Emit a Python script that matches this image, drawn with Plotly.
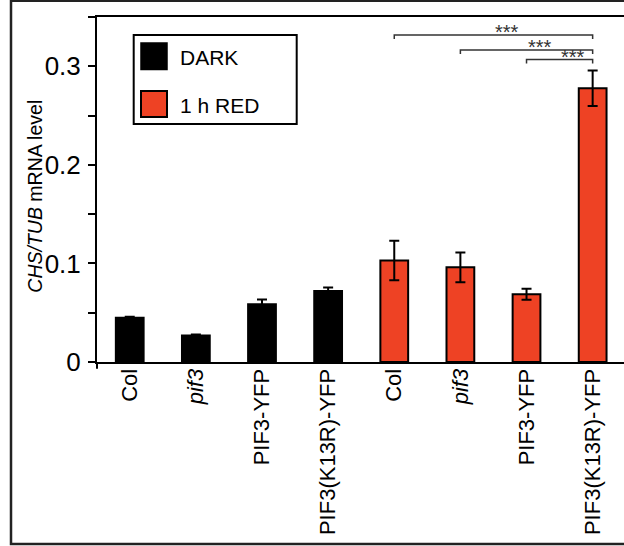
import plotly.graph_objects as go

categories = ["Col", "<i>pif3</i>", "PIF3-YFP", "PIF3(K13R)-YFP",
              "Col", "<i>pif3</i>", "PIF3-YFP", "PIF3(K13R)-YFP"]
dark_values = [0.045, 0.027, 0.0586, 0.072]
dark_errors = [0.001, 0.0008, 0.0047, 0.0035]
red_values = [0.103, 0.096, 0.0687, 0.2776]
red_errors = [0.020, 0.015, 0.0055, 0.018]
series_names = ["DARK", "1 h RED"]
y_tickvals = [0, 0.05, 0.1, 0.15, 0.2, 0.25, 0.3, 0.35]
y_ticktext = ["0", "", "0.1", "", "0.2", "", "0.3", ""]
# significance brackets: (start index, end index, y level, label)
brackets = [(4, 7, 0.3317, "***"), (5, 7, 0.3164, "***"), (6, 7, 0.3068, "***")]

FONT = "Arial, Liberation Sans, Helvetica, sans-serif"
RED = "#EE4224"
W, H = 624, 546
L, R, T, B = 97, 0, 17, 184.3
PW, PH = W - L - R, H - T - B


def px(x):
    return (x - L) / PW


def py(y):
    return (H - B - y) / PH


x_dark = list(range(4))
x_red = list(range(4, 8))

fig = go.Figure()
fig.add_trace(go.Bar(
    x=x_dark, y=dark_values, width=0.42, name=series_names[0],
    marker=dict(color="black", line=dict(color="black", width=2)),
    error_y=dict(type="data", array=dark_errors, color="black", thickness=2, width=5),
    showlegend=False))
fig.add_trace(go.Bar(
    x=x_red, y=red_values, width=0.42, name=series_names[1],
    marker=dict(color=RED, line=dict(color="black", width=2)),
    error_y=dict(type="data", array=red_errors, color="black", thickness=2, width=5),
    showlegend=False))

shapes = []
annotations = []

# significance brackets
tick_drop = 0.004
for x0, x1, yl, lab in brackets:
    shapes.append(dict(type="path", xref="x", yref="y",
                       path=f"M {x0},{yl - tick_drop} L {x0},{yl} L {x1},{yl} L {x1},{yl - tick_drop}",
                       line=dict(color="#333333", width=1.5)))
    annotations.append(dict(xref="x", yref="y", x=(x0 + x1) / 2 + 0.2, y=yl,
                            text=lab, showarrow=False, yanchor="bottom", yshift=-10,
                            font=dict(family=FONT, size=20, color="#333333")))

# legend (manual)
shapes.append(dict(type="rect", xref="paper", yref="paper",
                   x0=px(133.7), x1=px(296.7), y0=py(124), y1=py(35),
                   line=dict(color="black", width=2), fillcolor="white"))
shapes.append(dict(type="rect", xref="paper", yref="paper",
                   x0=px(141), x1=px(167), y0=py(69.5), y1=py(43),
                   line=dict(color="black", width=1.5), fillcolor="black"))
shapes.append(dict(type="rect", xref="paper", yref="paper",
                   x0=px(141), x1=px(167), y0=py(117), y1=py(91),
                   line=dict(color="black", width=2), fillcolor=RED))
annotations.append(dict(xref="paper", yref="paper", x=px(178), y=py(57),
                        xanchor="left", yanchor="middle", text=series_names[0],
                        showarrow=False, font=dict(family=FONT, size=21, color="black")))
annotations.append(dict(xref="paper", yref="paper", x=px(178), y=py(105),
                        xanchor="left", yanchor="middle", text=series_names[1],
                        showarrow=False, font=dict(family=FONT, size=21, color="black")))

# y axis title
annotations.append(dict(xref="paper", yref="paper", x=px(35), y=py(196.5),
                        xanchor="center", yanchor="middle", textangle=-90,
                        text="<i>CHS/TUB</i> mRNA level", showarrow=False,
                        font=dict(family=FONT, size=19.5, color="black")))

# y axis extension below x axis
shapes.append(dict(type="line", xref="paper", yref="paper",
                   x0=0, x1=0, y0=0, y1=py(368.5),
                   line=dict(color="black", width=2)))

# outer figure frame
shapes.append(dict(type="rect", xref="paper", yref="paper",
                   x0=px(11), x1=px(660), y0=py(543.5), y1=py(0.8),
                   line=dict(color="#222222", width=2.5)))

fig.update_layout(
    width=W, height=H,
    margin=dict(l=L, r=R, t=T, b=B, pad=0),
    paper_bgcolor="white", plot_bgcolor="white",
    bargap=0.5,
    shapes=shapes, annotations=annotations,
    font=dict(family=FONT, color="black"),
    xaxis=dict(range=[-0.495, 7.474], tickvals=list(range(8)), ticktext=categories,
               tickangle=-90, tickfont=dict(family=FONT, size=22, color="black"),
               showline=True, linecolor="black", linewidth=2, mirror=True,
               ticks="", showgrid=False, zeroline=False, ticklabelstandoff=-4),
    yaxis=dict(range=[0, 0.35], tickvals=y_tickvals, ticktext=y_ticktext,
               tickfont=dict(family=FONT, size=26, color="black"),
               showline=True, linecolor="black", linewidth=2,
               ticks="outside", ticklen=7, tickwidth=2, tickcolor="black",
               showgrid=False, zeroline=False, ticklabelstandoff=2),
)

fig.write_html("out.html", config={"displayModeBar": False},
               post_script="document.body.style.margin='0';document.body.style.overflow='hidden';")
